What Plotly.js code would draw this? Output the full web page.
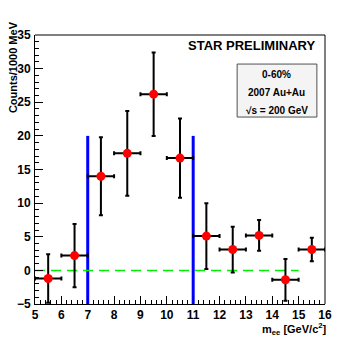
<!DOCTYPE html>
<html>
<head>
<meta charset="utf-8">
<script src="https://cdn.plot.ly/plotly-3.0.1.min.js"></script>
<style>
  body { margin: 0; background: white; }
  #chart { width: 360px; height: 338px; }
</style>
</head>
<body>
<div id="chart"></div>
<script>
// data points (mass bins)
var massBins = [5.5, 6.5, 7.5, 8.5, 9.5, 10.5, 11.5, 12.5, 13.5, 14.5, 15.5];
var counts = [-1.2, 2.2, 14.0, 17.4, 26.2, 16.7, 5.1, 3.1, 5.2, -1.4, 3.1];
var countErr = [3.6, 4.7, 5.8, 6.3, 6.2, 5.9, 4.9, 3.4, 2.3, 3.1, 1.75];
var binHalfWidth = [0.5, 0.5, 0.5, 0.5, 0.5, 0.5, 0.5, 0.5, 0.5, 0.5, 0.5];

// mass window cuts
var cutX = [7, 11];
var cutTop = 20;
var cutBottom = -5;

// zero line
var zeroX = [5, 15];
var zeroY = [0, 0];

var font = 'Liberation Sans, Arial, sans-serif';

var traces = [];

// blue cut lines
for (var i = 0; i < cutX.length; i++) {
  traces.push({
    x: [cutX[i], cutX[i]],
    y: [cutBottom, cutTop],
    mode: 'lines',
    line: { color: '#0000ff', width: 3 },
    hoverinfo: 'skip'
  });
}

// green dashed zero line
traces.push({
  x: zeroX,
  y: zeroY,
  mode: 'lines',
  line: { color: '#00ee00', width: 1.5, dash: '10px,6px' },
  hoverinfo: 'skip'
});

// the points
traces.push({
  x: massBins,
  y: counts,
  type: 'scatter',
  mode: 'markers',
  marker: { color: '#ff0000', size: 9 },
  error_y: { type: 'data', array: countErr, color: 'black', thickness: 2, width: 2 },
  error_x: { type: 'data', array: binHalfWidth, color: 'black', thickness: 2, width: 2 }
});

var layout = {
  width: 360,
  height: 338,
  showlegend: false,
  plot_bgcolor: 'white',
  paper_bgcolor: 'white',
  margin: { l: 35, r: 35, t: 35, b: 34 },
  font: { family: font, size: 11, color: 'black' },
  xaxis: {
    range: [5, 16],
    dtick: 1,
    ticks: 'inside',
    ticklen: 8,
    tickwidth: 1,
    tickcolor: 'black',
    showgrid: false,
    zeroline: false,
    showline: true,
    linecolor: 'black',
    linewidth: 1,
    tickfont: { family: font, size: 12, color: 'black', weight: 'bold' },
    minor: { dtick: 0.2, ticks: 'inside', ticklen: 4, tickcolor: 'black' }
  },
  yaxis: {
    range: [-5, 35],
    dtick: 5,
    ticks: 'inside',
    ticklen: 8,
    tickwidth: 1,
    tickcolor: 'black',
    showgrid: false,
    zeroline: false,
    showline: true,
    linecolor: 'black',
    linewidth: 1,
    ticklabelstandoff: 1,
    tickfont: { family: font, size: 12, color: 'black', weight: 'bold' },
    minor: { dtick: 1, ticks: 'inside', ticklen: 4, tickcolor: 'black' }
  },
  shapes: [
    // frame top and right
    { type: 'line', xref: 'paper', yref: 'paper', x0: 0, x1: 1, y0: 1, y1: 1,
      line: { color: '#808080', width: 2 } },
    { type: 'line', xref: 'paper', yref: 'paper', x0: 1, x1: 1, y0: 0, y1: 1,
      line: { color: 'black', width: 1 } },
    // info box
    { type: 'rect', xref: 'paper', yref: 'paper', x0: 0.697, x1: 0.972, y0: 0.695, y1: 0.892,
      fillcolor: '#f4f4f4', line: { color: '#505050', width: 1 } }
  ],
  annotations: [
    { xref: 'paper', yref: 'paper', x: 0.972, y: 0.96, xanchor: 'right', yanchor: 'middle',
      text: '<b>STAR PRELIMINARY</b>', showarrow: false, font: { family: font, size: 13 } },
    { xref: 'paper', yref: 'paper', x: 0.834, y: 0.853, xanchor: 'center', yanchor: 'middle',
      text: '<b>0-60%</b>', showarrow: false, font: { family: font, size: 10 } },
    { xref: 'paper', yref: 'paper', x: 0.834, y: 0.787, xanchor: 'center', yanchor: 'middle',
      text: '<b>2007 Au+Au</b>', showarrow: false, font: { family: font, size: 10 } },
    { xref: 'paper', yref: 'paper', x: 0.834, y: 0.72, xanchor: 'center', yanchor: 'middle',
      text: '<b>√s = 200 GeV</b>', showarrow: false, font: { family: font, size: 10 } },
    // axis titles
    { xref: 'paper', yref: 'paper', x: 1.015, y: -0.092, xanchor: 'right', yanchor: 'middle',
      text: '<b>m<sub>ee</sub> [GeV/c<sup>2</sup>]</b>', showarrow: false, font: { family: font, size: 11 } },
    { xref: 'paper', yref: 'paper', x: -0.075, y: 1.06, xanchor: 'center', yanchor: 'top',
      textangle: -90, text: '<b>Counts/1000 MeV</b>', showarrow: false, font: { family: font, size: 11 } }
  ]
};

Plotly.newPlot('chart', traces, layout, { displayModeBar: false, staticPlot: true });
</script>
</body>
</html>
